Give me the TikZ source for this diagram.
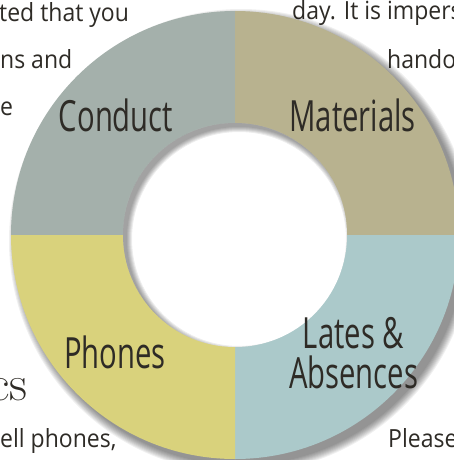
\documentclass[tikz,border=0pt]{standalone}
\usepackage{fontspec}
\usepackage{tikz}

\newfontfamily\handfont{Open Sans}[FakeStretch=0.68]
\newfontfamily\pagefont{Open Sans}[FakeStretch=0.92]

\definecolor{conductcol}{HTML}{A4B0AB}
\definecolor{materialscol}{HTML}{B8B28F}
\definecolor{phonescol}{HTML}{D9D27C}
\definecolor{latescol}{HTML}{ABC9CA}
\definecolor{inkcol}{HTML}{2E2B26}

\begin{document}
\begin{tikzpicture}[x=1pt, y=1pt,
    topic/.style={inkcol, anchor=base, inner sep=0pt, font=\handfont\fontsize{43}{43}\selectfont},
    margin/.style={inkcol, anchor=base west, inner sep=0pt, font=\pagefont\fontsize{25}{25}\selectfont}]
    \useasboundingbox (0, 0) rectangle (454, -460);
    \coordinate (c) at (235, -235);
    % page text behind
    \node [margin] (t1) at (-1, -22)  {ted that you};
    \node [margin] (t2) at (0, -68)   {ns and};
    \node [margin] (t3) at (0, -115)  {e};
    \node [margin] (t4) at (292, -20) {day. It is impers};
    \node [margin] (t5) at (387, -68) {handou};
    \node [margin] (t6) at (0, -447)  {ell phones,};
    \node [margin] (t7) at (388, -447) {Please};
    \node [inkcol, anchor=base east, inner sep=0pt, font=\fontsize{50}{50}\selectfont] (t8) at (28, -400) {cs};
    % drop shadow
    \foreach \r in {8,...,0}
      \fill [black, opacity=0.06] ([shift={(6,-6)}]c) circle (224+\r);
    % slices
    \fill [conductcol]   (c) -- ++(180:224) arc (180:90:224) -- cycle;
    \fill [materialscol] (c) -- ++(90:224) arc (90:0:224) -- cycle;
    \fill [latescol]     (c) -- ++(0:224) arc (0:-90:224) -- cycle;
    \fill [phonescol]    (c) -- ++(-90:224) arc (-90:-180:224) -- cycle;
    % hole
    \fill [white] (c) circle (112);
    \begin{scope}
      \clip (c) circle (112);
      \foreach \r in {0,...,5}
        \fill [black, opacity=0.07, even odd rule] (c) circle (130) ([shift={(4,-4)}]c) circle (112-\r);
    \end{scope}
    % labels
    \node [topic] (conduct)   at (116, -131)   {Conduct};
    \node [topic] (materials) at (352.5, -131) {Materials};
    \node [topic] (phones)    at (115, -368)   {Phones};
    \node [topic] (lates)     at (353.5, -348) {Lates \&};
    \node [topic] (absences)  at (353.5, -388) {Absences};
\end{tikzpicture}
\end{document}
